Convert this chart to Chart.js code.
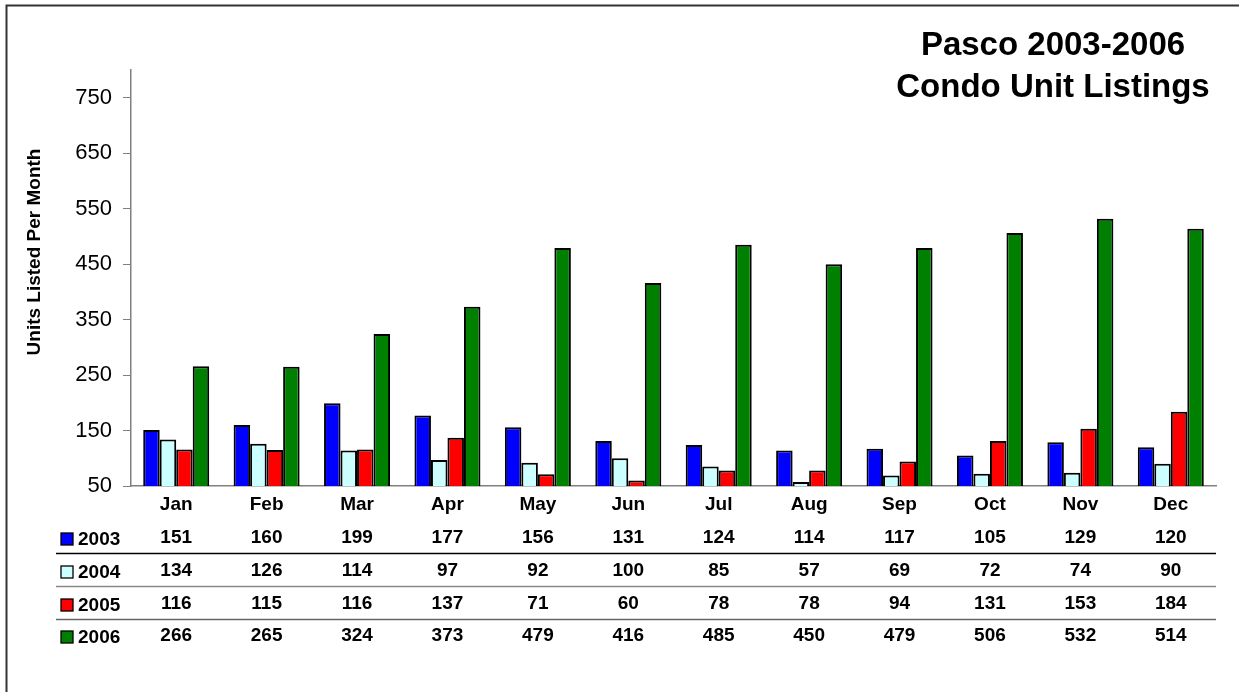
<!DOCTYPE html>
<html>
<head>
<meta charset="utf-8">
<script src="https://cdn.jsdelivr.net/npm/chart.js@4"></script>
<style>
html,body{margin:0;padding:0;background:#fff;}
canvas{display:block;}
</style>
</head>
<body>
<canvas id="c" width="1239" height="692"></canvas>
<script>
const months = ["Jan","Feb","Mar","Apr","May","Jun","Jul","Aug","Sep","Oct","Nov","Dec"];
const years = ["2003","2004","2005","2006"];
const s2003 = [151,160,199,177,156,131,124,114,117,105,129,120];
const s2004 = [134,126,114,97,92,100,85,57,69,72,74,90];
const s2005 = [116,115,116,137,71,60,78,78,94,131,153,184];
const s2006 = [266,265,324,373,479,416,485,450,479,506,532,514];
const yTicks = [50,150,250,350,450,550,650,750];
const colors = ["#0000FF","#CCFFFF","#FF0000","#008000"];
const titleLines = ["Pasco 2003-2006","Condo Unit Listings"];
const yTitle = "Units Listed Per Month";

const series = [s2003,s2004,s2005,s2006];
const FONT = "'Liberation Sans', Arial, Helvetica, sans-serif";

const decor = {
  id: 'decor',
  afterDraw(chart) {
    const ctx = chart.ctx;
    const x = chart.scales.x;
    ctx.save();
    // outer frame
    ctx.strokeStyle = '#333';
    ctx.lineWidth = 2;
    ctx.beginPath();
    ctx.moveTo(6.5, 692); ctx.lineTo(6.5, 5.5); ctx.lineTo(1239, 5.5);
    ctx.stroke();
    // title
    ctx.fillStyle = '#000';
    ctx.font = 'bold 33px ' + FONT;
    ctx.textAlign = 'center';
    ctx.textBaseline = 'middle';
    ctx.fillText(titleLines[0], 1053, 46);
    ctx.fillText(titleLines[1], 1053, 88);
    // y title
    ctx.save();
    ctx.translate(35, 252);
    ctx.rotate(-Math.PI/2);
    ctx.font = 'bold 19px ' + FONT;
    ctx.fillText(yTitle, 0, 0);
    ctx.restore();
    // data table
    const rowY = [538, 571, 604, 636];
    const lineY = [553.5, 586.5, 619.5];
    const lineCol = ['#000','#888','#666'];
    for (let i = 0; i < 3; i++) {
      ctx.strokeStyle = lineCol[i];
      ctx.lineWidth = 1.5;
      ctx.beginPath();
      ctx.moveTo(56, lineY[i]); ctx.lineTo(1216, lineY[i]);
      ctx.stroke();
    }
    ctx.font = 'bold 19px ' + FONT;
    for (let r = 0; r < 4; r++) {
      // legend key
      ctx.fillStyle = colors[r];
      ctx.fillRect(61, rowY[r] - 5, 12, 12);
      ctx.strokeStyle = '#000';
      ctx.lineWidth = 1.3;
      ctx.strokeRect(61, rowY[r] - 5, 12, 12);
      ctx.fillStyle = '#000';
      ctx.textAlign = 'left';
      ctx.fillText(years[r], 78, rowY[r] + 2);
      ctx.textAlign = 'center';
      for (let i = 0; i < months.length; i++) {
        ctx.fillText(String(series[r][i]), x.getPixelForValue(i), rowY[r]);
      }
    }
    ctx.restore();
  }
};

new Chart(document.getElementById('c'), {
  type: 'bar',
  data: {
    labels: months,
    datasets: years.map((y, k) => ({
      label: y,
      data: series[k],
      backgroundColor: colors[k],
      borderColor: '#000',
      borderWidth: 2,
      categoryPercentage: 0.73,
      barPercentage: 1.0
    }))
  },
  options: {
    responsive: false,
    animation: false,
    devicePixelRatio: 1,
    layout: { padding: { left: 0, right: 23, top: 70, bottom: 0 } },
    plugins: { legend: { display: false }, title: { display: false }, tooltip: { enabled: false } },
    scales: {
      x: {
        grid: { display: false, drawTicks: false },
        border: { display: true, color: '#808080', width: 1.5 },
        ticks: { color: '#000', font: { family: FONT, size: 19, weight: 'bold' }, padding: 7, maxRotation: 0 },
        afterFit(s) { s.height = 206; }
      },
      y: {
        min: 50, max: 800,
        grid: { drawOnChartArea: false, drawTicks: true, tickLength: 8, color: '#808080' },
        border: { display: true, color: '#808080', width: 1.5 },
        ticks: { stepSize: 100, color: '#000', font: { family: FONT, size: 22 }, padding: 11 },
        afterBuildTicks(s) { s.ticks = yTicks.map(v => ({ value: v })); },
        afterFit(s) { s.width = 131; }
      }
    }
  },
  plugins: [decor]
});
</script>
</body>
</html>
